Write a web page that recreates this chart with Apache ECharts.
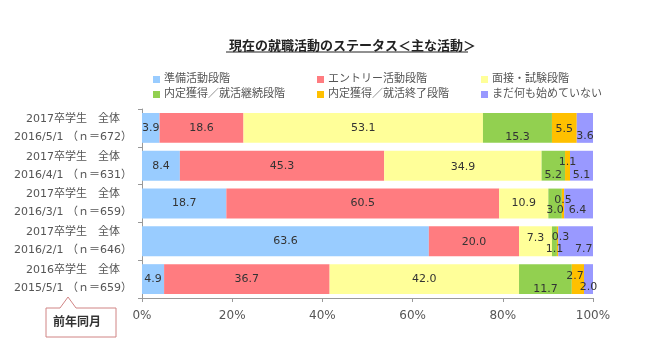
<!DOCTYPE html>
<html><head><meta charset="utf-8">
<script src="https://cdn.jsdelivr.net/npm/echarts@6/dist/echarts.min.js"></script>
<style>html,body{margin:0;padding:0;background:#fff}#c{width:650px;height:357px}</style>
</head><body><div id="c"></div>
<script>
var categories = [
  "2017卒学生　全体\n2016/5/1 （ｎ＝672）",
  "2017卒学生　全体\n2016/4/1 （ｎ＝631）",
  "2017卒学生　全体\n2016/3/1 （ｎ＝659）",
  "2017卒学生　全体\n2016/2/1 （ｎ＝646）",
  "2016卒学生　全体\n2015/5/1 （ｎ＝659）"
];
var seriesNames = ["準備活動段階","エントリー活動段階","面接・試験段階","内定獲得／就活継続段階","内定獲得／就活終了段階","まだ何も始めていない"];
var junbi    = [3.9, 8.4, 18.7, 63.6, 4.9];
var entry    = [18.6, 45.3, 60.5, 20.0, 36.7];
var mensetsu = [53.1, 34.9, 10.9, 7.3, 42.0];
var keizoku  = [15.3, 5.2, 3.0, 1.1, 11.7];
var shuryo   = [5.5, 1.1, 0.5, 0.3, 2.7];
var mada     = [3.6, 5.1, 6.4, 7.7, 2.0];
var xTicks = [0, 20, 40, 60, 80, 100];

var values = [junbi, entry, mensetsu, keizoku, shuryo, mada];
var colors = ["#99CCFF","#FF7C80","#FFFF99","#92D050","#FFC000","#9999FF"];
// label offsets [dx, dy] per series per row (styling only)
var offs = [
  [[0,0],[0,0],[0,0],[0,0],[0,0]],
  [[0,0],[0,0],[0,0],[0,1],[0,0]],
  [[0,0],[0,1],[0,0],[0,-3],[0,0]],
  [[0,9],[0,9],[0,7],[0,8],[0,10]],
  [[0,1],[0,-4],[0,-3],[3,-4],[-3,-3]],
  [[0,8],[0,9],[-1,7],[8,8],[0,8]]
];
var FONT = "'DejaVu Sans','Noto Sans CJK JP',sans-serif";

var series = seriesNames.map(function(n, s){
  return {
    name: n, type: 'bar', stack: 'total', barCategoryGap: '21%',
    itemStyle: {color: colors[s]},
    label: {show: true, position: 'inside', color: '#333', fontSize: 11, fontFamily: FONT,
      formatter: function(p){ return p.value.toFixed(1); }},
    data: values[s].map(function(v, i){
      return {value: v, label: {offset: offs[s][i]}};
    })
  };
});

var legendPos = [[153,74],[317,74],[481,74],[153,89],[317,89],[481,89]];
var legends = seriesNames.map(function(n, i){
  return {data:[n], left: legendPos[i][0], top: legendPos[i][1], icon:'rect',
    itemWidth:7, itemHeight:7, itemGap:0, padding:0,
    textStyle:{fontSize:11, color:'#555', fontFamily: FONT, padding:[0,0,0,-1]}};
});

var chart = echarts.init(document.getElementById('c'));
chart.setOption({
  animation: false,
  textStyle: {fontFamily: FONT},
  title: {text: '現在の就職活動のステータス＜主な活動＞', left: 224, top: 35,
    textStyle:{fontSize:13, fontWeight:'bold', color:'#222', fontFamily: FONT}},
  legend: legends,
  grid: {left: 142, right: 57, top: 109, bottom: 59},
  xAxis: {type:'value', min: xTicks[0], max: xTicks[xTicks.length-1], interval: 20,
    axisLine:{show:true, lineStyle:{color:'#999'}},
    axisTick:{show:true, length:4, lineStyle:{color:'#999'}},
    splitLine:{show:false},
    axisLabel:{formatter:'{value}%', fontSize:12, color:'#555', margin:12, fontFamily: FONT}},
  yAxis: {type:'category', data: categories, inverse: true,
    axisLine:{show:true, lineStyle:{color:'#999'}},
    axisTick:{show:true, length:4, lineStyle:{color:'#999'}},
    axisLabel:{interval:0, hideOverlap:false, fontSize:11, color:'#555', align:'center', margin:69, lineHeight:18,
      padding:[4,0,0,0], fontFamily: FONT}},
  series: series,
  graphic: [
    {type:'line', shape:{x1:226, y1:52, x2:468, y2:52}, style:{stroke:'#222', lineWidth:1}},
    {type:'polyline', shape:{points:[[46,308],[60,308],[68,297],[76,308],[116,308],[116,337],[46,337],[46,308]]},
      style:{stroke:'#D08484', lineWidth:1, fill:'#fff'}},
    {type:'text', left:53, top:315, style:{text:'前年同月', font:"bold 12px 'Noto Sans CJK JP'", fill:'#333'}}
  ]
});
</script></body></html>
